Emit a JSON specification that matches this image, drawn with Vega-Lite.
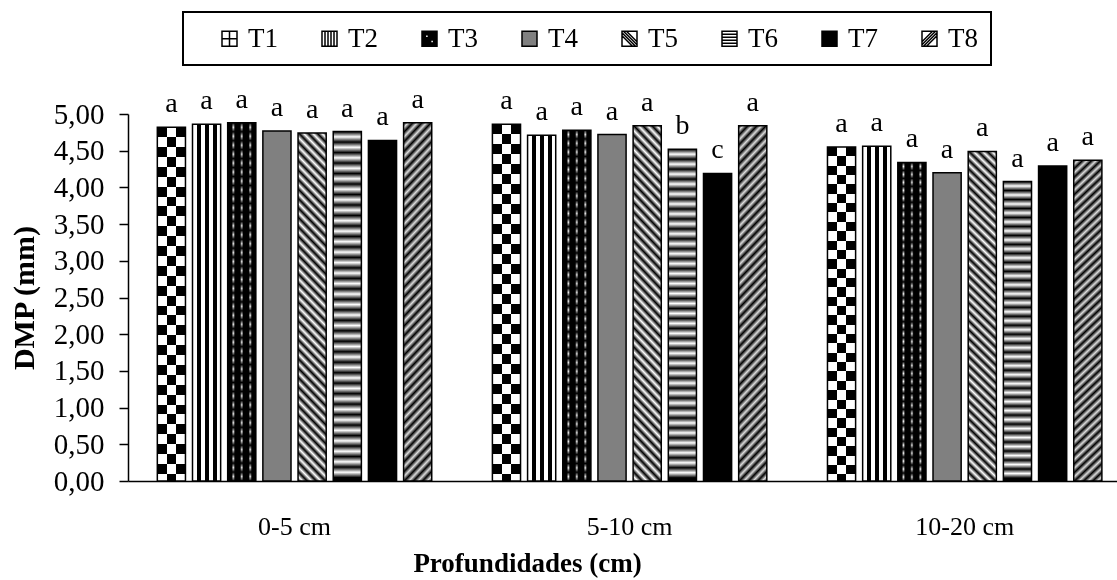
{
 "$schema": "https://vega.github.io/schema/vega-lite/v6.json",
 "width": 989,
 "height": 367,
 "autosize": {"type": "none"},
 "padding": {"left": 128, "top": 114, "right": 0, "bottom": 99},
 "background": "white",
 "config": {"font": "Liberation Serif", "view": {"stroke": null}},
 "data": {"values": [
  {"P": "0-5 cm", "T": "T1", "v": 4.82, "L": "a"},
  {"P": "0-5 cm", "T": "T2", "v": 4.86, "L": "a"},
  {"P": "0-5 cm", "T": "T3", "v": 4.88, "L": "a"},
  {"P": "0-5 cm", "T": "T4", "v": 4.77, "L": "a"},
  {"P": "0-5 cm", "T": "T5", "v": 4.74, "L": "a"},
  {"P": "0-5 cm", "T": "T6", "v": 4.76, "L": "a"},
  {"P": "0-5 cm", "T": "T7", "v": 4.64, "L": "a"},
  {"P": "0-5 cm", "T": "T8", "v": 4.88, "L": "a"},
  {"P": "5-10 cm", "T": "T1", "v": 4.86, "L": "a"},
  {"P": "5-10 cm", "T": "T2", "v": 4.71, "L": "a"},
  {"P": "5-10 cm", "T": "T3", "v": 4.78, "L": "a"},
  {"P": "5-10 cm", "T": "T4", "v": 4.72, "L": "a"},
  {"P": "5-10 cm", "T": "T5", "v": 4.84, "L": "a"},
  {"P": "5-10 cm", "T": "T6", "v": 4.52, "L": "b"},
  {"P": "5-10 cm", "T": "T7", "v": 4.19, "L": "c"},
  {"P": "5-10 cm", "T": "T8", "v": 4.84, "L": "a"},
  {"P": "10-20 cm", "T": "T1", "v": 4.55, "L": "a"},
  {"P": "10-20 cm", "T": "T2", "v": 4.56, "L": "a"},
  {"P": "10-20 cm", "T": "T3", "v": 4.34, "L": "a"},
  {"P": "10-20 cm", "T": "T4", "v": 4.20, "L": "a"},
  {"P": "10-20 cm", "T": "T5", "v": 4.49, "L": "a"},
  {"P": "10-20 cm", "T": "T6", "v": 4.08, "L": "a"},
  {"P": "10-20 cm", "T": "T7", "v": 4.29, "L": "a"},
  {"P": "10-20 cm", "T": "T8", "v": 4.37, "L": "a"}
 ]},
 "encoding": {
  "x": {"field": "P", "type": "nominal", "sort": ["0-5 cm", "5-10 cm", "10-20 cm"],
   "scale": {"paddingInner": 0.16, "paddingOuter": 0.0558, "align": 0.69},
   "axis": {"title": "Profundidades (cm)", "labelAngle": 0, "ticks": false, "grid": false,
    "domainColor": "#000", "domainWidth": 1.5, "labelFontSize": 26, "labelColor": "#000", "labelPadding": 32,
    "titleFontSize": 27, "titleFontWeight": "bold", "titleColor": "#000", "titlePadding": 11, "titleX": 399, "titleAlign": "center"}},
  "xOffset": {"field": "T", "type": "nominal", "scale": {"paddingInner": 0.2, "paddingOuter": 0.1}},
  "y": {"field": "v", "type": "quantitative", "scale": {"domain": [0, 5]},
   "axis": {"title": "DMP (mm)", "values": [0, 0.5, 1, 1.5, 2, 2.5, 3, 3.5, 4, 4.5, 5],
    "labelExpr": "replace(format(datum.value, '.2f'), '.', ',')", "grid": false,
    "domainColor": "#000", "domainWidth": 1.5, "tickColor": "#000", "tickWidth": 1.5, "tickSize": 9,
    "labelFontSize": 29, "labelColor": "#000", "labelPadding": 15,
    "titleFontSize": 30, "titleFontWeight": "bold", "titleColor": "#000", "titlePadding": 14}}
 },
 "layer": [
  {"mark": {"type": "bar"},
   "encoding": {"fill": {"field": "T", "type": "nominal",
    "scale": {"range": ["#ffffff", "#ffffff", "#000000", "#808080", "#ffffff", "#ffffff", "#000000", "#ffffff"]},
    "legend": {"orient": "none", "legendX": 55, "legendY": -102, "direction": "horizontal", "columns": 8,
     "title": " ", "titleOrient": "left", "titleFontSize": 1, "titlePadding": 20,
     "padding": 13, "strokeColor": "#000",
     "symbolType": "square", "symbolSize": 225, "symbolStrokeColor": "#000", "symbolStrokeWidth": 1.5, "symbolOpacity": 1,
     "labelFontSize": 27, "labelColor": "#000", "labelOffset": 5, "columnPadding": 38,
     "labelExpr": "datum.label + '    '",
     "encode": {"legend": {"update": {"strokeWidth": {"value": 2}}},
      "symbols": {"update": {
       "stroke": {"value": "#000"}, "strokeWidth": {"value": 1.5},
       "fill": [
        {"test": "datum.value == 'T4'", "value": "#808080"},
        {"value": "#000000"}],
       "shape": [
        {"test": "datum.value == 'T1'", "value": "M-1,-1H1V1H-1Z M-1,-1V0H0V-1Z M0,0V1H1V0Z"},
        {"test": "datum.value == 'T2'", "value": "M-1,-1H1V1H-1Z M-0.6,-1V1H-0.2V-1Z M0.2,-1V1H0.6V-1Z"},
        {"test": "datum.value == 'T3'", "value": "M-1,-1H1V1H-1Z M-0.55,-0.55V-0.15H-0.15V-0.55Z M0.15,0.15V0.55H0.55V0.15Z"},
        {"test": "datum.value == 'T5'", "value": "M-1,-1H1V1H-1Z M-1,-0.8L-1,-0.4L0.4,1L0.8,1Z M-0.8,-1L1,0.8L1,0.4L-0.4,-1Z"},
        {"test": "datum.value == 'T6'", "value": "M-1,-1H1V1H-1Z M-1,-0.6V-0.2H1V-0.6Z M-1,0.2V0.6H1V0.2Z"},
        {"test": "datum.value == 'T8'", "value": "M-1,-1H1V1H-1Z M-0.8,1L-0.4,1L1,-0.4L1,-0.8Z M0.4,-1L-1,0.4L-1,0.8L0.8,-1Z"},
        {"value": "square"}]
      }}}}}}},
  {"transform": [{"filter": "datum.T == 'T1'"}],
   "mark": {"type": "bar", "fill": {"gradient": "linear", "x1": 0, "y1": 0, "x2": 1, "y2": 0, "stops": [
      {"offset": 0, "color": "#fff"}, {"offset": 0.333, "color": "#fff"}, {"offset": 0.333, "color": "#000"},
      {"offset": 0.667, "color": "#000"}, {"offset": 0.667, "color": "#fff"}, {"offset": 1, "color": "#fff"}]}}},
  {"transform": [{"filter": "datum.T == 'T1'"}],
   "mark": {"type": "bar", "blend": "difference", "fill": {"gradient": "linear", "x1": 0, "y1": 0, "x2": 0, "y2": 1, "stops": [
    {"offset": 0, "color": "#fff"}, {"offset": 0.028, "color": "#fff"}, {"offset": 0.028, "color": "#000"}, {"offset": 0.056, "color": "#000"},
    {"offset": 0.056, "color": "#fff"}, {"offset": 0.084, "color": "#fff"}, {"offset": 0.084, "color": "#000"}, {"offset": 0.112, "color": "#000"},
    {"offset": 0.112, "color": "#fff"}, {"offset": 0.14, "color": "#fff"}, {"offset": 0.14, "color": "#000"}, {"offset": 0.168, "color": "#000"},
    {"offset": 0.168, "color": "#fff"}, {"offset": 0.196, "color": "#fff"}, {"offset": 0.196, "color": "#000"}, {"offset": 0.224, "color": "#000"},
    {"offset": 0.224, "color": "#fff"}, {"offset": 0.252, "color": "#fff"}, {"offset": 0.252, "color": "#000"}, {"offset": 0.28, "color": "#000"},
    {"offset": 0.28, "color": "#fff"}, {"offset": 0.308, "color": "#fff"}, {"offset": 0.308, "color": "#000"}, {"offset": 0.336, "color": "#000"},
    {"offset": 0.336, "color": "#fff"}, {"offset": 0.364, "color": "#fff"}, {"offset": 0.364, "color": "#000"}, {"offset": 0.392, "color": "#000"},
    {"offset": 0.392, "color": "#fff"}, {"offset": 0.42, "color": "#fff"}, {"offset": 0.42, "color": "#000"}, {"offset": 0.448, "color": "#000"},
    {"offset": 0.448, "color": "#fff"}, {"offset": 0.476, "color": "#fff"}, {"offset": 0.476, "color": "#000"}, {"offset": 0.504, "color": "#000"},
    {"offset": 0.504, "color": "#fff"}, {"offset": 0.532, "color": "#fff"}, {"offset": 0.532, "color": "#000"}, {"offset": 0.56, "color": "#000"},
    {"offset": 0.56, "color": "#fff"}, {"offset": 0.588, "color": "#fff"}, {"offset": 0.588, "color": "#000"}, {"offset": 0.616, "color": "#000"},
    {"offset": 0.616, "color": "#fff"}, {"offset": 0.644, "color": "#fff"}, {"offset": 0.644, "color": "#000"}, {"offset": 0.672, "color": "#000"},
    {"offset": 0.672, "color": "#fff"}, {"offset": 0.7, "color": "#fff"}, {"offset": 0.7, "color": "#000"}, {"offset": 0.728, "color": "#000"},
    {"offset": 0.728, "color": "#fff"}, {"offset": 0.756, "color": "#fff"}, {"offset": 0.756, "color": "#000"}, {"offset": 0.784, "color": "#000"},
    {"offset": 0.784, "color": "#fff"}, {"offset": 0.812, "color": "#fff"}, {"offset": 0.812, "color": "#000"}, {"offset": 0.84, "color": "#000"},
    {"offset": 0.84, "color": "#fff"}, {"offset": 0.868, "color": "#fff"}, {"offset": 0.868, "color": "#000"}, {"offset": 0.896, "color": "#000"},
    {"offset": 0.896, "color": "#fff"}, {"offset": 0.924, "color": "#fff"}, {"offset": 0.924, "color": "#000"}, {"offset": 0.952, "color": "#000"},
    {"offset": 0.952, "color": "#fff"}, {"offset": 0.98, "color": "#fff"}, {"offset": 0.98, "color": "#000"}, {"offset": 1, "color": "#000"}]}}},
  {"transform": [{"filter": "datum.T == 'T2'"}],
   "mark": {"type": "bar", "fill": {"gradient": "linear", "x1": 0, "y1": 0, "x2": 1, "y2": 0, "stops": [
      {"offset": 0, "color": "#fff"}, {"offset": 0.143, "color": "#fff"}, {"offset": 0.143, "color": "#000"},
      {"offset": 0.286, "color": "#000"}, {"offset": 0.286, "color": "#fff"}, {"offset": 0.429, "color": "#fff"},
      {"offset": 0.429, "color": "#000"}, {"offset": 0.571, "color": "#000"}, {"offset": 0.571, "color": "#fff"},
      {"offset": 0.714, "color": "#fff"}, {"offset": 0.714, "color": "#000"}, {"offset": 0.857, "color": "#000"},
      {"offset": 0.857, "color": "#fff"}, {"offset": 1, "color": "#fff"}]}}},
  {"transform": [{"filter": "datum.T == 'T3'"}],
   "mark": {"type": "bar", "fill": {"gradient": "linear", "x1": 0, "y1": 0, "x2": 1, "y2": 0, "stops": [
      {"offset": 0, "color": "#000"}, {"offset": 0.14, "color": "#000"}, {"offset": 0.2, "color": "#fff"},
      {"offset": 0.26, "color": "#000"}, {"offset": 0.44, "color": "#000"}, {"offset": 0.5, "color": "#fff"},
      {"offset": 0.56, "color": "#000"}, {"offset": 0.74, "color": "#000"}, {"offset": 0.8, "color": "#fff"},
      {"offset": 0.86, "color": "#000"}, {"offset": 1, "color": "#000"}]}}},
  {"transform": [{"filter": "datum.T == 'T3'"}],
   "mark": {"type": "bar", "blend": "multiply", "fill": {"gradient": "linear", "x1": 0, "y1": 0, "x2": 0, "y2": 1, "stops": [
    {"offset": 0, "color": "#000"}, {"offset": 0.0125, "color": "#fff"}, {"offset": 0.025, "color": "#000"}, {"offset": 0.0375, "color": "#fff"},
    {"offset": 0.05, "color": "#000"}, {"offset": 0.0625, "color": "#fff"}, {"offset": 0.075, "color": "#000"}, {"offset": 0.0875, "color": "#fff"},
    {"offset": 0.1, "color": "#000"}, {"offset": 0.1125, "color": "#fff"}, {"offset": 0.125, "color": "#000"}, {"offset": 0.1375, "color": "#fff"},
    {"offset": 0.15, "color": "#000"}, {"offset": 0.1625, "color": "#fff"}, {"offset": 0.175, "color": "#000"}, {"offset": 0.1875, "color": "#fff"},
    {"offset": 0.2, "color": "#000"}, {"offset": 0.2125, "color": "#fff"}, {"offset": 0.225, "color": "#000"}, {"offset": 0.2375, "color": "#fff"},
    {"offset": 0.25, "color": "#000"}, {"offset": 0.2625, "color": "#fff"}, {"offset": 0.275, "color": "#000"}, {"offset": 0.2875, "color": "#fff"},
    {"offset": 0.3, "color": "#000"}, {"offset": 0.3125, "color": "#fff"}, {"offset": 0.325, "color": "#000"}, {"offset": 0.3375, "color": "#fff"},
    {"offset": 0.35, "color": "#000"}, {"offset": 0.3625, "color": "#fff"}, {"offset": 0.375, "color": "#000"}, {"offset": 0.3875, "color": "#fff"},
    {"offset": 0.4, "color": "#000"}, {"offset": 0.4125, "color": "#fff"}, {"offset": 0.425, "color": "#000"}, {"offset": 0.4375, "color": "#fff"},
    {"offset": 0.45, "color": "#000"}, {"offset": 0.4625, "color": "#fff"}, {"offset": 0.475, "color": "#000"}, {"offset": 0.4875, "color": "#fff"},
    {"offset": 0.5, "color": "#000"}, {"offset": 0.5125, "color": "#fff"}, {"offset": 0.525, "color": "#000"}, {"offset": 0.5375, "color": "#fff"},
    {"offset": 0.55, "color": "#000"}, {"offset": 0.5625, "color": "#fff"}, {"offset": 0.575, "color": "#000"}, {"offset": 0.5875, "color": "#fff"},
    {"offset": 0.6, "color": "#000"}, {"offset": 0.6125, "color": "#fff"}, {"offset": 0.625, "color": "#000"}, {"offset": 0.6375, "color": "#fff"},
    {"offset": 0.65, "color": "#000"}, {"offset": 0.6625, "color": "#fff"}, {"offset": 0.675, "color": "#000"}, {"offset": 0.6875, "color": "#fff"},
    {"offset": 0.7, "color": "#000"}, {"offset": 0.7125, "color": "#fff"}, {"offset": 0.725, "color": "#000"}, {"offset": 0.7375, "color": "#fff"},
    {"offset": 0.75, "color": "#000"}, {"offset": 0.7625, "color": "#fff"}, {"offset": 0.775, "color": "#000"}, {"offset": 0.7875, "color": "#fff"},
    {"offset": 0.8, "color": "#000"}, {"offset": 0.8125, "color": "#fff"}, {"offset": 0.825, "color": "#000"}, {"offset": 0.8375, "color": "#fff"},
    {"offset": 0.85, "color": "#000"}, {"offset": 0.8625, "color": "#fff"}, {"offset": 0.875, "color": "#000"}, {"offset": 0.8875, "color": "#fff"},
    {"offset": 0.9, "color": "#000"}, {"offset": 0.9125, "color": "#fff"}, {"offset": 0.925, "color": "#000"}, {"offset": 0.9375, "color": "#fff"},
    {"offset": 0.95, "color": "#000"}, {"offset": 0.9625, "color": "#fff"}, {"offset": 0.975, "color": "#000"}, {"offset": 0.9875, "color": "#fff"},
    {"offset": 1, "color": "#000"}]}}},
  {"transform": [{"filter": "datum.T == 'T5'"}],
   "mark": {"type": "bar", "fill": {"gradient": "linear", "x1": 0, "y1": 1, "x2": 0.0897, "y2": -0.0759, "stops": [
      {"offset": 0, "color": "#000"}, {"offset": 0.0125, "color": "#fff"}, {"offset": 0.025, "color": "#000"}, {"offset": 0.0375, "color": "#fff"},
      {"offset": 0.05, "color": "#000"}, {"offset": 0.0625, "color": "#fff"}, {"offset": 0.075, "color": "#000"}, {"offset": 0.0875, "color": "#fff"},
      {"offset": 0.1, "color": "#000"}, {"offset": 0.1125, "color": "#fff"}, {"offset": 0.125, "color": "#000"}, {"offset": 0.1375, "color": "#fff"},
      {"offset": 0.15, "color": "#000"}, {"offset": 0.1625, "color": "#fff"}, {"offset": 0.175, "color": "#000"}, {"offset": 0.1875, "color": "#fff"},
      {"offset": 0.2, "color": "#000"}, {"offset": 0.2125, "color": "#fff"}, {"offset": 0.225, "color": "#000"}, {"offset": 0.2375, "color": "#fff"},
      {"offset": 0.25, "color": "#000"}, {"offset": 0.2625, "color": "#fff"}, {"offset": 0.275, "color": "#000"}, {"offset": 0.2875, "color": "#fff"},
      {"offset": 0.3, "color": "#000"}, {"offset": 0.3125, "color": "#fff"}, {"offset": 0.325, "color": "#000"}, {"offset": 0.3375, "color": "#fff"},
      {"offset": 0.35, "color": "#000"}, {"offset": 0.3625, "color": "#fff"}, {"offset": 0.375, "color": "#000"}, {"offset": 0.3875, "color": "#fff"},
      {"offset": 0.4, "color": "#000"}, {"offset": 0.4125, "color": "#fff"}, {"offset": 0.425, "color": "#000"}, {"offset": 0.4375, "color": "#fff"},
      {"offset": 0.45, "color": "#000"}, {"offset": 0.4625, "color": "#fff"}, {"offset": 0.475, "color": "#000"}, {"offset": 0.4875, "color": "#fff"},
      {"offset": 0.5, "color": "#000"}, {"offset": 0.5125, "color": "#fff"}, {"offset": 0.525, "color": "#000"}, {"offset": 0.5375, "color": "#fff"},
      {"offset": 0.55, "color": "#000"}, {"offset": 0.5625, "color": "#fff"}, {"offset": 0.575, "color": "#000"}, {"offset": 0.5875, "color": "#fff"},
      {"offset": 0.6, "color": "#000"}, {"offset": 0.6125, "color": "#fff"}, {"offset": 0.625, "color": "#000"}, {"offset": 0.6375, "color": "#fff"},
      {"offset": 0.65, "color": "#000"}, {"offset": 0.6625, "color": "#fff"}, {"offset": 0.675, "color": "#000"}, {"offset": 0.6875, "color": "#fff"},
      {"offset": 0.7, "color": "#000"}, {"offset": 0.7125, "color": "#fff"}, {"offset": 0.725, "color": "#000"}, {"offset": 0.7375, "color": "#fff"},
      {"offset": 0.75, "color": "#000"}, {"offset": 0.7625, "color": "#fff"}, {"offset": 0.775, "color": "#000"}, {"offset": 0.7875, "color": "#fff"},
      {"offset": 0.8, "color": "#000"}, {"offset": 0.8125, "color": "#fff"}, {"offset": 0.825, "color": "#000"}, {"offset": 0.8375, "color": "#fff"},
      {"offset": 0.85, "color": "#000"}, {"offset": 0.8625, "color": "#fff"}, {"offset": 0.875, "color": "#000"}, {"offset": 0.8875, "color": "#fff"},
      {"offset": 0.9, "color": "#000"}, {"offset": 0.9125, "color": "#fff"}, {"offset": 0.925, "color": "#000"}, {"offset": 0.9375, "color": "#fff"},
      {"offset": 0.95, "color": "#000"}, {"offset": 0.9625, "color": "#fff"}, {"offset": 0.975, "color": "#000"}, {"offset": 0.9875, "color": "#fff"},
      {"offset": 1, "color": "#000"}]}}},
  {"transform": [{"filter": "datum.T == 'T6'"}],
   "mark": {"type": "bar", "fill": {"gradient": "linear", "x1": 0, "y1": 0, "x2": 0, "y2": 1, "stops": [
      {"offset": 0, "color": "#000"}, {"offset": 0.015, "color": "#fff"}, {"offset": 0.03, "color": "#000"}, {"offset": 0.045, "color": "#fff"},
      {"offset": 0.06, "color": "#000"}, {"offset": 0.075, "color": "#fff"}, {"offset": 0.09, "color": "#000"}, {"offset": 0.105, "color": "#fff"},
      {"offset": 0.12, "color": "#000"}, {"offset": 0.135, "color": "#fff"}, {"offset": 0.15, "color": "#000"}, {"offset": 0.165, "color": "#fff"},
      {"offset": 0.18, "color": "#000"}, {"offset": 0.195, "color": "#fff"}, {"offset": 0.21, "color": "#000"}, {"offset": 0.225, "color": "#fff"},
      {"offset": 0.24, "color": "#000"}, {"offset": 0.255, "color": "#fff"}, {"offset": 0.27, "color": "#000"}, {"offset": 0.285, "color": "#fff"},
      {"offset": 0.3, "color": "#000"}, {"offset": 0.315, "color": "#fff"}, {"offset": 0.33, "color": "#000"}, {"offset": 0.345, "color": "#fff"},
      {"offset": 0.36, "color": "#000"}, {"offset": 0.375, "color": "#fff"}, {"offset": 0.39, "color": "#000"}, {"offset": 0.405, "color": "#fff"},
      {"offset": 0.42, "color": "#000"}, {"offset": 0.435, "color": "#fff"}, {"offset": 0.45, "color": "#000"}, {"offset": 0.465, "color": "#fff"},
      {"offset": 0.48, "color": "#000"}, {"offset": 0.495, "color": "#fff"}, {"offset": 0.51, "color": "#000"}, {"offset": 0.525, "color": "#fff"},
      {"offset": 0.54, "color": "#000"}, {"offset": 0.555, "color": "#fff"}, {"offset": 0.57, "color": "#000"}, {"offset": 0.585, "color": "#fff"},
      {"offset": 0.6, "color": "#000"}, {"offset": 0.615, "color": "#fff"}, {"offset": 0.63, "color": "#000"}, {"offset": 0.645, "color": "#fff"},
      {"offset": 0.66, "color": "#000"}, {"offset": 0.675, "color": "#fff"}, {"offset": 0.69, "color": "#000"}, {"offset": 0.705, "color": "#fff"},
      {"offset": 0.72, "color": "#000"}, {"offset": 0.735, "color": "#fff"}, {"offset": 0.75, "color": "#000"}, {"offset": 0.765, "color": "#fff"},
      {"offset": 0.78, "color": "#000"}, {"offset": 0.795, "color": "#fff"}, {"offset": 0.81, "color": "#000"}, {"offset": 0.825, "color": "#fff"},
      {"offset": 0.84, "color": "#000"}, {"offset": 0.855, "color": "#fff"}, {"offset": 0.87, "color": "#000"}, {"offset": 0.885, "color": "#fff"},
      {"offset": 0.9, "color": "#000"}, {"offset": 0.915, "color": "#fff"}, {"offset": 0.93, "color": "#000"}, {"offset": 0.945, "color": "#fff"},
      {"offset": 0.96, "color": "#000"}, {"offset": 0.975, "color": "#fff"}, {"offset": 0.99, "color": "#000"}, {"offset": 1, "color": "#000"}]}}},
  {"transform": [{"filter": "datum.T == 'T8'"}],
   "mark": {"type": "bar", "fill": {"gradient": "linear", "x1": 0, "y1": 0, "x2": 0.0897, "y2": 1.0759, "stops": [
      {"offset": 0, "color": "#000"}, {"offset": 0.0125, "color": "#ddd"}, {"offset": 0.025, "color": "#000"}, {"offset": 0.0375, "color": "#ddd"},
      {"offset": 0.05, "color": "#000"}, {"offset": 0.0625, "color": "#ddd"}, {"offset": 0.075, "color": "#000"}, {"offset": 0.0875, "color": "#ddd"},
      {"offset": 0.1, "color": "#000"}, {"offset": 0.1125, "color": "#ddd"}, {"offset": 0.125, "color": "#000"}, {"offset": 0.1375, "color": "#ddd"},
      {"offset": 0.15, "color": "#000"}, {"offset": 0.1625, "color": "#ddd"}, {"offset": 0.175, "color": "#000"}, {"offset": 0.1875, "color": "#ddd"},
      {"offset": 0.2, "color": "#000"}, {"offset": 0.2125, "color": "#ddd"}, {"offset": 0.225, "color": "#000"}, {"offset": 0.2375, "color": "#ddd"},
      {"offset": 0.25, "color": "#000"}, {"offset": 0.2625, "color": "#ddd"}, {"offset": 0.275, "color": "#000"}, {"offset": 0.2875, "color": "#ddd"},
      {"offset": 0.3, "color": "#000"}, {"offset": 0.3125, "color": "#ddd"}, {"offset": 0.325, "color": "#000"}, {"offset": 0.3375, "color": "#ddd"},
      {"offset": 0.35, "color": "#000"}, {"offset": 0.3625, "color": "#ddd"}, {"offset": 0.375, "color": "#000"}, {"offset": 0.3875, "color": "#ddd"},
      {"offset": 0.4, "color": "#000"}, {"offset": 0.4125, "color": "#ddd"}, {"offset": 0.425, "color": "#000"}, {"offset": 0.4375, "color": "#ddd"},
      {"offset": 0.45, "color": "#000"}, {"offset": 0.4625, "color": "#ddd"}, {"offset": 0.475, "color": "#000"}, {"offset": 0.4875, "color": "#ddd"},
      {"offset": 0.5, "color": "#000"}, {"offset": 0.5125, "color": "#ddd"}, {"offset": 0.525, "color": "#000"}, {"offset": 0.5375, "color": "#ddd"},
      {"offset": 0.55, "color": "#000"}, {"offset": 0.5625, "color": "#ddd"}, {"offset": 0.575, "color": "#000"}, {"offset": 0.5875, "color": "#ddd"},
      {"offset": 0.6, "color": "#000"}, {"offset": 0.6125, "color": "#ddd"}, {"offset": 0.625, "color": "#000"}, {"offset": 0.6375, "color": "#ddd"},
      {"offset": 0.65, "color": "#000"}, {"offset": 0.6625, "color": "#ddd"}, {"offset": 0.675, "color": "#000"}, {"offset": 0.6875, "color": "#ddd"},
      {"offset": 0.7, "color": "#000"}, {"offset": 0.7125, "color": "#ddd"}, {"offset": 0.725, "color": "#000"}, {"offset": 0.7375, "color": "#ddd"},
      {"offset": 0.75, "color": "#000"}, {"offset": 0.7625, "color": "#ddd"}, {"offset": 0.775, "color": "#000"}, {"offset": 0.7875, "color": "#ddd"},
      {"offset": 0.8, "color": "#000"}, {"offset": 0.8125, "color": "#ddd"}, {"offset": 0.825, "color": "#000"}, {"offset": 0.8375, "color": "#ddd"},
      {"offset": 0.85, "color": "#000"}, {"offset": 0.8625, "color": "#ddd"}, {"offset": 0.875, "color": "#000"}, {"offset": 0.8875, "color": "#ddd"},
      {"offset": 0.9, "color": "#000"}, {"offset": 0.9125, "color": "#ddd"}, {"offset": 0.925, "color": "#000"}, {"offset": 0.9375, "color": "#ddd"},
      {"offset": 0.95, "color": "#000"}, {"offset": 0.9625, "color": "#ddd"}, {"offset": 0.975, "color": "#000"}, {"offset": 0.9875, "color": "#ddd"},
      {"offset": 1, "color": "#000"}]}}},
  {"mark": {"type": "bar", "fill": "transparent", "stroke": "#000", "strokeWidth": 1.5}},
  {"mark": {"type": "text", "baseline": "alphabetic", "dy": -15, "fontSize": 28, "color": "#000"},
   "encoding": {"text": {"field": "L"}}}
 ]
}
